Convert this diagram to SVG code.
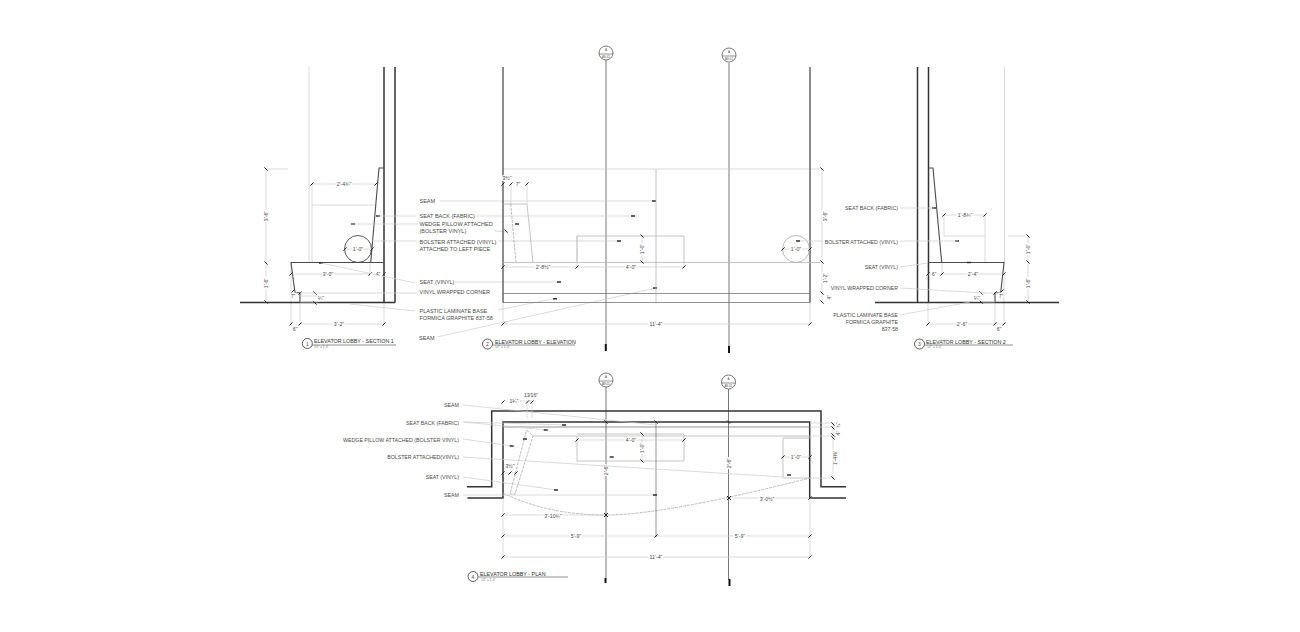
<svg xmlns="http://www.w3.org/2000/svg" width="1300" height="632" viewBox="0 0 1300 632">
<style>
text{font-family:"Liberation Sans",Arial,sans-serif;font-size:5.5px;fill:#333;opacity:.9}
.e{text-anchor:end;font-size:5.25px}
.d{font-size:5.2px;text-anchor:middle;stroke:#fff;stroke-width:2.5px;paint-order:stroke}
.s{font-size:3px;fill:#555}
.t{font-size:5.35px;fill:#111}
.n{font-size:3px;text-anchor:middle;fill:#333}
.h{fill:none;stroke:#333;stroke-width:1.5}
.m{fill:none;stroke:#4a4a4a;stroke-width:1.1}
.k{fill:none;stroke:#666;stroke-width:.7}
.l{fill:none;stroke:#ccc;stroke-width:.7}
.g{fill:none;stroke:#b5b5b5;stroke-width:.8}
.da{fill:none;stroke:#aaa;stroke-width:.8;stroke-dasharray:3 1}
.w{fill:#fff;stroke:#555;stroke-width:.8}
.ax{stroke:#777;stroke-width:1}
</style>
<defs>
<path id="f" d="M-1.600 1.600L1.600-1.600" stroke="#222" stroke-width="1"/>
<path id="b" d="M-1.600-1.600L1.600 1.600" stroke="#222" stroke-width="1"/>
<rect id="a" x="-2" y="-.7" width="4" height="1.400" fill="#222"/>
<path id="x" d="M-2-2L2 2M-2 2L2-2" stroke="#222" stroke-width="1"/>
</defs>

<g id="axes">
<path class="ax" d="M606 60V345M729 63V346M606 387V578M728.500 389V580"/>
<path d="M605.800 344V351M729 346V353M605.500 578V583M729.500 579V586" stroke="#111" stroke-width="2" fill="none"/>
<g id="grid-top-1"><circle class="w" cx="606" cy="53" r="7"/><path class="k" d="M599 54H613"/><text class="n" x="606" y="51">A</text><text class="n" x="606" y="58">A9.01</text></g>
<g id="grid-top-2"><circle class="w" cx="729" cy="55" r="7"/><path class="k" d="M722 56H736"/><text class="n" x="729" y="53">A</text><text class="n" x="729" y="60">A9.01</text></g>
<g id="grid-plan-1"><circle class="w" cx="606" cy="380" r="7"/><path class="k" d="M599 381H613"/><text class="n" x="606" y="378">A</text><text class="n" x="606" y="385">A9.01</text></g>
<g id="grid-plan-2"><circle class="w" cx="728.500" cy="382" r="7"/><path class="k" d="M721.500 383H735.500"/><text class="n" x="728.500" y="380">A</text><text class="n" x="728.500" y="387">A9.01</text></g>
</g>

<g id="section-1">
<path class="l" d="M309 67V262M312 184V262M312 205H376M266 169H288M291 262V324M300 302V324M384 302V324M370 262V276M384 262V276"/>
<path class="h" d="M240 302.500H395M384 67V302.500M395 67V302.500"/>
<path class="m" d="M291 262.500H384M291 262.500L295 292.700H300V302.500M384 168H379L370.700 262.500"/>
<circle cx="358" cy="249" r="13.500" fill="none" stroke="#444" stroke-width=".9"/>
<path class="l" d="M266 169V302M312 184H376M291 274H370M300 324H384M300 296H318M300 302H318M344 249H372"/>
<use href="#b" x="266" y="169"/><use href="#b" x="266" y="263"/><use href="#b" x="266" y="302"/><use href="#f" x="312" y="184"/><use href="#f" x="376" y="184"/>
<use href="#f" x="291" y="274"/><use href="#f" x="370" y="274"/><use href="#f" x="384" y="274"/><use href="#f" x="291" y="324"/><use href="#f" x="300" y="324"/><use href="#f" x="384" y="324"/>
<use href="#f" x="293" y="291"/><use href="#f" x="300" y="293"/><use href="#b" x="315" y="293"/><use href="#b" x="315" y="303"/><use href="#f" x="345" y="249"/><use href="#f" x="372" y="249"/>
<use href="#a" x="378" y="216"/><use href="#a" x="353" y="224"/><use href="#a" x="321" y="263"/>
<text class="d" transform="rotate(-90 266 216)" x="266" y="218">3'-6"</text>
<text class="d" transform="rotate(-90 266 283)" x="266" y="285">1'-6"</text>
<text class="d" x="344" y="186">2'-4¾"</text><text class="d" x="328" y="276">3'-0"</text><text class="d" x="378" y="276">4"</text><text class="d" x="339" y="326">3'-2"</text><text class="d" x="295" y="331">6"</text><text class="d" x="293" y="298">7"</text><text class="d" x="321" y="300">¼"</text><text class="d" x="358" y="251">1'-0"</text>
</g>

<g id="leaders-1">
<path class="l" d="M440 201H656M476 216H637M378 216H416M350 224H418M495 231L508 232M372 241H416M498 241H620M321 263L415 283M455 282H560M300 293H417M350 304L415 311M498 310L557 298M437 337L656 288"/>
<use href="#a" x="654" y="201"/><use href="#a" x="633" y="216"/><use href="#b" x="506" y="231"/><use href="#a" x="619" y="241"/><use href="#a" x="559" y="282"/><use href="#a" x="555" y="298.800"/><use href="#a" x="655" y="288"/>
<text x="419.500" y="203">SEAM</text><text x="419.500" y="218">SEAT BACK (FABRIC)</text><text x="419.500" y="226">WEDGE PILLOW ATTACHED</text><text x="419.500" y="233">(BOLSTER VINYL)</text><text x="419.500" y="243.500">BOLSTER ATTACHED (VINYL)</text><text x="419.500" y="250.500">ATTACHED TO LEFT PIECE</text><text x="419.500" y="284">SEAT (VINYL)</text><text x="419.500" y="294">VINYL WRAPPED CORNER</text><text x="419.500" y="312.500">PLASTIC LAMINATE BASE</text><text x="419.500" y="319.500">FORMICA GRAPHITE 837-58</text><text x="419" y="339.500">SEAM</text>
</g>

<g id="elevation">
<path class="l" d="M503 169H820M511 184V204M527 184V204M810 302V324M503 302V324M577 236V267M684 262V267"/>
<path d="M503 67V302.500M810 67V302.500" stroke="#666" stroke-width="1.500" fill="none"/>
<path class="g" d="M503 262.500H820"/>
<path class="k" d="M503 293.500H810M503 302.500H810"/>
<path class="g" d="M656 169V302.500"/>
<path class="g" d="M503 204H527L533 262.500M577 262V236H684V262"/>
<path class="da" d="M510.700 204L516 262.500"/>
<circle cx="796" cy="249" r="13.500" fill="none" stroke="#aaa" stroke-width=".8"/>
<path class="l" d="M503 267H684M503 324H810M642 236V262M822 169V302M782 249H810M800 241H823"/>
<use href="#f" x="503" y="184"/><use href="#f" x="511" y="184"/><use href="#f" x="527" y="184"/><use href="#f" x="503" y="267"/><use href="#f" x="577" y="267"/><use href="#f" x="684" y="267"/><use href="#b" x="642" y="236"/><use href="#b" x="642" y="262"/><use href="#f" x="503" y="324"/><use href="#f" x="810" y="324"/>
<use href="#b" x="822" y="169"/><use href="#b" x="822" y="262"/><use href="#b" x="822" y="293"/><use href="#b" x="822" y="302"/><use href="#f" x="783" y="249"/><use href="#f" x="810" y="249"/><use href="#a" x="798" y="241"/><use href="#a" x="517" y="224"/>
<text class="d" x="507" y="180">3½"</text><text class="d" x="518" y="186">7"</text><text class="d" x="543" y="269">2'-8½"</text><text class="d" x="631" y="269">4'-0"</text><text class="d" x="656" y="326">11'-4"</text><text class="d" x="796" y="251">1'-0"</text>
<text class="d" transform="rotate(-90 642 249)" x="642" y="251">1'-0"</text>
<text class="d" transform="rotate(-90 825 216)" x="825" y="218">3'-6"</text>
<text class="d" transform="rotate(-90 825 278)" x="825" y="280">1'-2"</text>
<text class="d" transform="rotate(-90 829 297)" x="829" y="299">4"</text>
</g>

<g id="section-3">
<path class="l" d="M1004.500 67V262M985 215V262M944 215V236H985M1008 236H1025M928 262V276M942 262V276M928 302V324M995 302V324M1004 262V324"/>
<path class="h" d="M875 302.500H1059M917.500 67V302.500M928.500 67V302.500"/>
<path class="m" d="M928.500 262.500H1004L1000.700 292.700H995V302.500M928.500 168H933L941.700 262.500"/>
<path class="l" d="M944 215H985M1028 236V302M928 274H1004M928 324H1004M981 293H1000M981 302H995"/>
<use href="#f" x="944" y="215"/><use href="#f" x="985" y="215"/><use href="#f" x="928" y="274"/><use href="#f" x="942" y="274"/><use href="#f" x="1004" y="274"/><use href="#f" x="928" y="324"/><use href="#f" x="995" y="324"/><use href="#f" x="1004" y="324"/>
<use href="#b" x="1028" y="236"/><use href="#b" x="1028" y="262"/><use href="#b" x="1028" y="302"/><use href="#b" x="981" y="293"/><use href="#b" x="981" y="302"/><use href="#f" x="1002" y="291"/><use href="#f" x="995" y="293"/>
<use href="#a" x="934" y="208"/><use href="#a" x="957" y="241"/><use href="#a" x="969" y="262.500"/>
<text class="d" x="965" y="217">1'-8¾"</text><text class="d" x="934" y="276">6"</text><text class="d" x="973" y="276">2'-4"</text><text class="d" x="962" y="326">2'-6"</text><text class="d" x="999" y="331">6"</text><text class="d" x="1001" y="298">7"</text><text class="d" x="977" y="300">¼"</text>
<text class="d" transform="rotate(-90 1028 249)" x="1028" y="251">1'-0"</text>
<text class="d" transform="rotate(-90 1028 283)" x="1028" y="285">1'-6"</text>
<path class="l" d="M900 208H934M900 241H958M900 267L928 263M900 288L985 293M900 315L970 302"/>
<g class="labels"><text class="e" x="898" y="210">SEAT BACK (FABRIC)</text><text class="e" x="898" y="243.500">BOLSTER ATTACHED (VINYL)</text><text class="e" x="898" y="269">SEAT (VINYL)</text><text class="e" x="898" y="290">VINYL WRAPPED CORNER</text><text class="e" x="898" y="317">PLASTIC LAMINATE BASE</text><text class="e" x="898" y="324">FORMICA GRAPHITE</text><text class="e" x="898" y="331">837-58</text></g>
</g>

<g id="plan">
<path class="h" d="M467 486.700H491.700V411H821V486.700H846M467.500 498H503V422H809.700V498H846"/>
<path class="k" d="M503 427H810"/>
<path class="g" d="M533 436H810M577 436V461H684V434H577M783 478V438H810M783 478H810"/>
<path class="da" d="M526.700 430L533 436L515 494H510L526.700 430"/>
<path class="da" d="M503 493Q548 515 606 515T810 478"/>
<path class="l" d="M503 495H656M503 498V557M810 498V557M527 402V418M532 402V418"/>
<path class="k" d="M656 422V537"/>
<path class="l" d="M503 515H606M729 498H810M503 536H810M503 557H810M577 440H684M642 434V461M783 457H810M503 473H516M810 423H836M810 427H836M810 436H836M810 478H836M833 423V478M511 401H532"/>
<use href="#f" x="503" y="402"/><use href="#f" x="527.500" y="402"/><use href="#f" x="532" y="402"/><use href="#f" x="503" y="473"/><use href="#f" x="510" y="473"/><use href="#f" x="516" y="473"/>
<use href="#f" x="577" y="440"/><use href="#f" x="684" y="440"/><use href="#b" x="642" y="434"/><use href="#b" x="642" y="461"/><use href="#f" x="783" y="457"/><use href="#f" x="810" y="457"/>
<use href="#f" x="503" y="515"/><use href="#x" x="606" y="515"/><use href="#x" x="729" y="498"/><use href="#f" x="810" y="498"/><use href="#f" x="503" y="536"/><use href="#f" x="656" y="536"/><use href="#f" x="810" y="536"/><use href="#f" x="503" y="557"/><use href="#f" x="810" y="557"/>
<use href="#b" x="656" y="422"/><use href="#b" x="728.500" y="422"/><use href="#b" x="606" y="422"/><use href="#b" x="833" y="424"/><use href="#b" x="833" y="428"/><use href="#b" x="833" y="435"/><use href="#b" x="833" y="438"/><use href="#b" x="833" y="478"/>
<use href="#a" x="655" y="495"/>
<text class="d" x="514" y="403">1¼"</text><text class="d" x="531" y="397">13⁄16"</text><text class="d" x="510" y="468">3½"</text><text class="d" x="553" y="518">3'-10¾"</text><text class="d" x="767" y="501">3'-0½"</text><text class="d" x="576" y="538">5'-9"</text><text class="d" x="740" y="538">5'-9"</text><text class="d" x="656" y="559">11'-4"</text><text class="d" x="631" y="442">4'-0"</text><text class="d" x="796" y="459">1'-0"</text>
<text class="d" transform="rotate(-90 642 448)" x="642" y="450">1'-0"</text>
<text class="d" transform="rotate(-90 606 470)" x="606" y="472">2'-6"</text>
<text class="d" transform="rotate(-90 728.500 463)" x="728.500" y="465">2'-6"</text>
<text class="d" transform="rotate(-90 835 458)" x="835" y="460">1'-4⅜"</text>
<text class="d" transform="rotate(-90 838 425)" x="838" y="427">¾"</text>
<text class="d" transform="rotate(-90 838 433)" x="838" y="435">4"</text>
<path class="l" d="M463 405L656 425M463 422L546 430M463 422L566 425M463 439L512 446M463 457L783 477M463 477L557 490M463 495H503"/>
<use href="#a" x="525" y="439"/><use href="#a" x="511.700" y="446"/><use href="#a" x="545.700" y="430"/><use href="#a" x="564" y="425"/><use href="#a" x="611.700" y="457"/><use href="#a" x="789" y="475"/><use href="#a" x="556" y="490"/>
<text class="e" x="459" y="407">SEAM</text><text class="e" x="459" y="424.500">SEAT BACK (FABRIC)</text><text class="e" x="459" y="441.500">WEDGE PILLOW ATTACHED (BOLSTER VINYL)</text><text class="e" x="459" y="459">BOLSTER ATTACHED(VINYL)</text><text class="e" x="459" y="479">SEAT (VINYL)</text><text class="e" x="459" y="497">SEAM</text>
</g>

<g id="title-1"><circle cx="307.300" cy="343.500" r="5" fill="none" stroke="#333" stroke-width=".8"/><text class="n" x="307.300" y="345.500" style="font-size:5px">1</text><path class="k" d="M312 345H396"/><text class="t" x="314" y="343">ELEVATOR LOBBY - SECTION 1</text><text class="s" x="314" y="347.500">1/2" = 1'-0"</text></g>
<g id="title-2"><circle cx="487.500" cy="344" r="5" fill="none" stroke="#333" stroke-width=".8"/><text class="n" x="487.500" y="346" style="font-size:5px">2</text><path class="k" d="M493 345H575"/><text class="t" x="495" y="343.500">ELEVATOR LOBBY - ELEVATION</text><text class="s" x="495" y="348">1/2" = 1'-0"</text></g>
<g id="title-3"><circle cx="919.500" cy="344" r="5" fill="none" stroke="#333" stroke-width=".8"/><text class="n" x="919.500" y="346" style="font-size:5px">3</text><path class="k" d="M925 345H1013"/><text class="t" x="926" y="343.500">ELEVATOR LOBBY - SECTION 2</text><text class="s" x="927" y="348">1/2" = 1'-0"</text></g>
<g id="title-4"><circle cx="473" cy="576.500" r="5" fill="none" stroke="#333" stroke-width=".8"/><text class="n" x="473" y="578.500" style="font-size:5px">4</text><path class="k" d="M478 577H568"/><text class="t" x="480" y="576">ELEVATOR LOBBY - PLAN</text><text class="s" x="481" y="580.500">1/2" = 1'-0"</text></g>
</svg>
